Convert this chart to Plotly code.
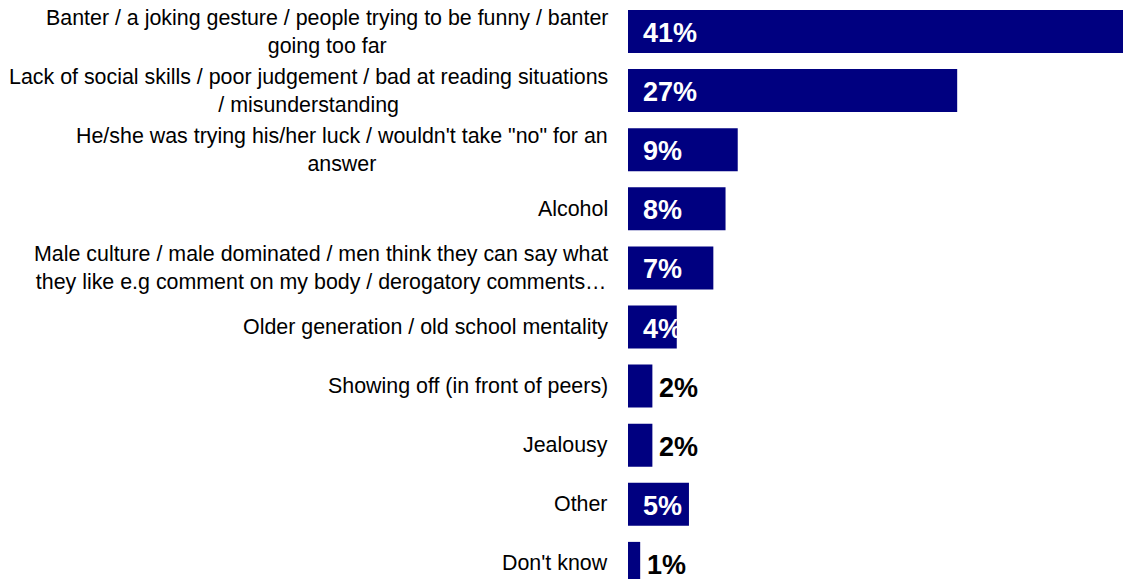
import plotly.graph_objects as go

# Reasons given, top to bottom, with line breaks as shown beside the bars
categories = [
    "Banter / a joking gesture / people trying to be funny / banter<br>going too far",
    "Lack of social skills / poor judgement / bad at reading situations<br>/ misunderstanding",
    "He/she was trying his/her luck / wouldn't take \"no\" for an<br>answer",
    "Alcohol",
    "Male culture / male dominated / men think they can say what<br>they like e.g comment on my body / derogatory comments…",
    "Older generation / old school mentality",
    "Showing off (in front of peers)",
    "Jealousy",
    "Other",
    "Don't know",
]
values = [41, 27, 9, 8, 7, 4, 2, 2, 5, 1]

BAR_COLOR = "#000080"
FONT = "Liberation Sans, Arial, sans-serif"

fig = go.Figure(
    go.Bar(
        x=values,
        y=categories,
        orientation="h",
        marker=dict(color=BAR_COLOR, line=dict(width=0)),
        hoverinfo="skip",
    )
)

annotations = []
for cat, val in zip(categories, values):
    # category label, right-aligned against the bars, wrapped lines centred
    annotations.append(dict(
        x=0, xref="paper", y=cat, yref="y",
        text=cat, showarrow=False,
        xanchor="right", yanchor="middle", align="center",
        xshift=-18,
        font=dict(family=FONT, size=21.4, color="#000000"),
    ))
    # value label: white inside the bar, black just past the end of short bars
    inside = val >= 3
    annotations.append(dict(
        x=0 if inside else val, xref="x", y=cat, yref="y",
        text=f"<b>{val}%</b>", showarrow=False,
        xanchor="left", yanchor="middle",
        xshift=13 if inside else 5, yshift=-1.5,
        font=dict(family=FONT, size=27, color="#ffffff" if inside else "#000000"),
    ))

fig.update_layout(
    width=1123, height=579,
    margin=dict(l=628, r=0, t=0, b=0),
    paper_bgcolor="#ffffff", plot_bgcolor="#ffffff",
    bargap=0.272,
    showlegend=False,
    xaxis=dict(range=[0, 40.6], visible=False, fixedrange=True),
    yaxis=dict(type="category", range=[9.264, -0.533], showticklabels=False,
               showgrid=False, zeroline=False, showline=False, ticks="",
               fixedrange=True),
    annotations=annotations,
)

fig.write_html("out.html", config={"displayModeBar": False})
